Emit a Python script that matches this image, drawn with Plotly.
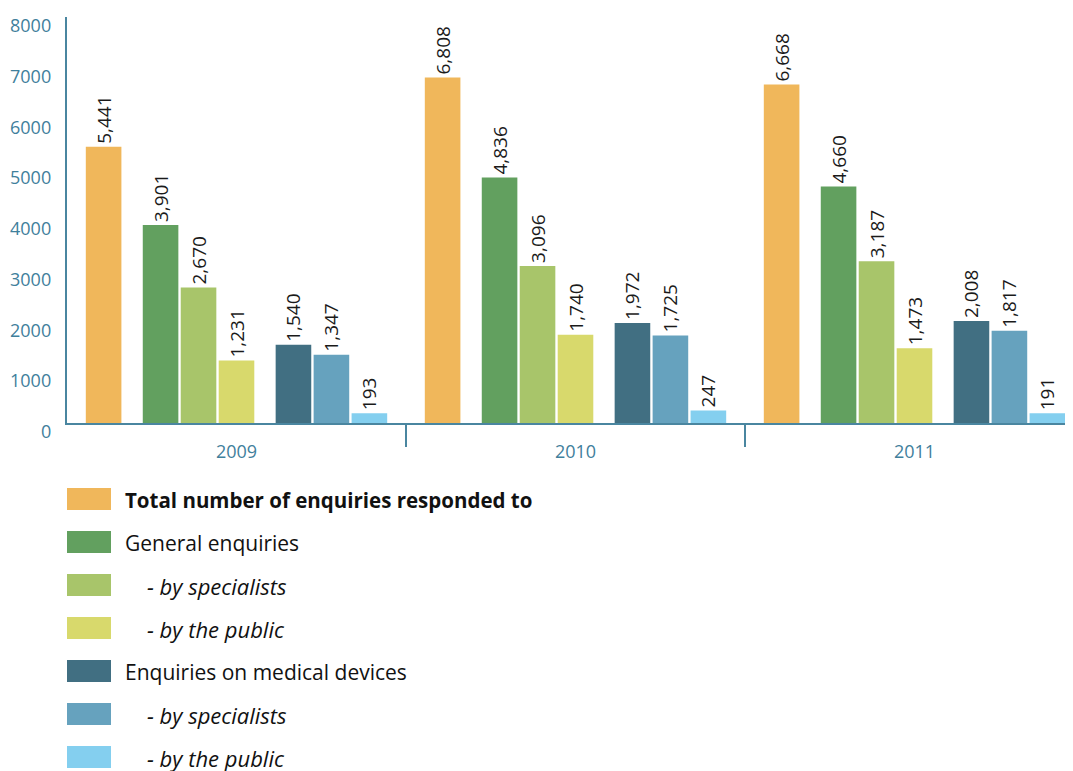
import plotly.graph_objects as go

years = ["2009", "2010", "2011"]

series_names = [
    "<b>Total number of enquiries responded to</b>",
    "General enquiries",
    "<i>- by specialists</i>",
    "<i>- by the public</i>",
    "Enquiries on medical devices",
    "<i>- by specialists</i>",
    "<i>- by the public</i>",
]
total = [5441, 6808, 6668]
general = [3901, 4836, 4660]
general_specialists = [2670, 3096, 3187]
general_public = [1231, 1740, 1473]
devices = [1540, 1972, 2008]
devices_specialists = [1347, 1725, 1817]
devices_public = [193, 247, 191]
y_ticks = [0, 1000, 2000, 3000, 4000, 5000, 6000, 7000, 8000]

colors = ["#F0B75B", "#62A05F", "#A8C56A", "#D8D96C", "#416F82", "#66A2BE", "#84CFEF"]
values = [total, general, general_specialists, general_public,
          devices, devices_specialists, devices_public]
slots = [-3.5, -2, -1, 0, 1.5, 2.5, 3.5]
indent = [0, 0, 22, 22, 0, 22, 22]
legend_size = [20.5, 21, 22, 22, 21, 22, 22]

AXIS = "#4A86A0"
TICK = "#3F809C"
FONT = "Open Sans"

# page geometry (the page body adds an 8px margin)
OFF = 8
W, H = 1073 - OFF, 771 - OFF
LEFT, RIGHT, TOP, BOTTOM = 67, 1073, 17, 423


def px(x):
    return (x - LEFT) / (RIGHT - LEFT)


def py(y):
    return (BOTTOM - y) / (BOTTOM - TOP)


step, width = 0.112, 0.105
fig = go.Figure()
for name, vals, col, s in zip(series_names, values, colors, slots):
    fig.add_trace(go.Bar(
        x=[i + s * step for i in range(len(years))], y=vals, width=width,
        marker=dict(color=col, line=dict(width=0)), name=name,
        text=[f"{v:,}" for v in vals], textposition="outside", textangle=-90,
        constraintext="none",
        textfont=dict(family=FONT, size=19, color="#1A1A1A"), cliponaxis=False,
        showlegend=False,
    ))

# y tick labels (sit a little below their values in the original)
for t in y_ticks:
    fig.add_annotation(x=0, xref="paper", y=t, yref="y", text=str(t), showarrow=False,
                       xanchor="right", xshift=-14, yshift=-8,
                       font=dict(family=FONT, size=18, color=TICK))

# legend drawn as boxes + text
for k, (name, col) in enumerate(zip(series_names, colors)):
    top = 488 + 43 * k
    fig.add_shape(type="rect", xref="paper", yref="paper",
                  x0=px(67), x1=px(111), y0=py(top), y1=py(top + 22),
                  fillcolor=col, line=dict(width=0))
    fig.add_annotation(x=px(123 + indent[k]), y=py(top + 12), xref="paper", yref="paper",
                       text=name, showarrow=False, xanchor="left", yanchor="middle",
                       font=dict(family=FONT, size=legend_size[k], color="#111111"))

fig.update_layout(
    width=W, height=H,
    margin=dict(l=LEFT - OFF, r=W + OFF - RIGHT, t=TOP - OFF, b=H + OFF - BOTTOM),
    plot_bgcolor="white", paper_bgcolor="white", barmode="overlay",
    xaxis=dict(range=[-0.5, -0.5 + (RIGHT - LEFT) / 339], tickvals=[0, 1, 2], ticktext=years,
               ticks="", showline=True, linecolor=AXIS, linewidth=2, showgrid=False,
               zeroline=False, ticklabelstandoff=11,
               tickfont=dict(family=FONT, size=18, color=TICK),
               minor=dict(tickvals=[0.5, 1.5], ticks="outside", ticklen=22, tickwidth=2,
                          tickcolor=AXIS)),
    yaxis=dict(range=[0, 8000], showline=True, linecolor=AXIS, linewidth=2, showgrid=False,
               zeroline=False, showticklabels=False, ticks=""),
)

fig.write_html("out.html")
